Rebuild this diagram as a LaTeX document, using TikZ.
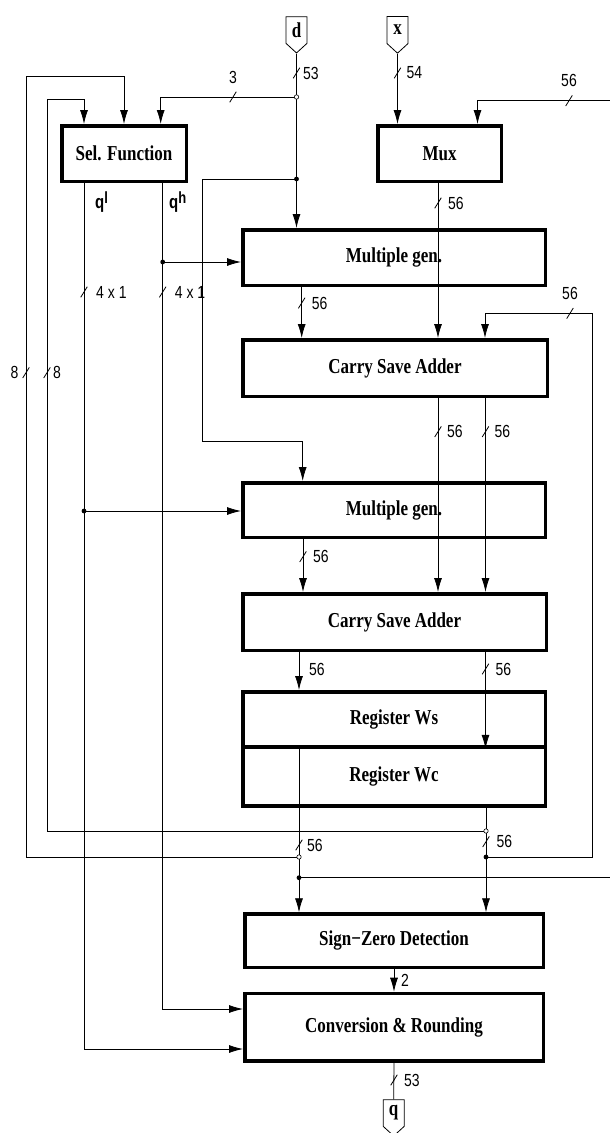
\documentclass[tikz,border=0pt]{standalone}
\usepackage{fontspec}
\setmainfont{Liberation Serif}
\setsansfont{Liberation Sans}
\usetikzlibrary{arrows.meta, shapes.symbols}

% the labels of the figure are set a bit taller than wide
\newcommand{\tall}[1]{\scalebox{1}[1.25]{#1}}

\tikzset{
  blk/.style={draw, line width=3.5pt, minimum width=302.5pt, minimum height=55.5pt,
    inner sep=0pt, font=\fontsize{17}{20}\selectfont\bfseries},
  term/.style={draw, line width=0.8pt, signal, signal to=south, signal pointer angle=95,
    minimum width=21pt, minimum height=31pt, inner sep=0pt,
    font=\fontsize{17}{20}\selectfont\bfseries},
  wire/.style={line width=0.8pt},
  arr/.style={wire, -{Latex[length=14pt,width=8pt]}},
  num/.style={font=\sffamily\fontsize{14}{16}\selectfont, inner sep=1pt},
  qlab/.style={font=\sffamily\bfseries\fontsize{15}{17}\selectfont, inner sep=0pt, anchor=west},
}

\begin{document}
\begin{tikzpicture}[x=1pt, y=-1pt]
  \useasboundingbox (0,0) rectangle (610,1133);
  % Terminals
  \node[term] (din) at (296.5,30) {\tall{d}};
  \node[term] (xin) at (397.5,30) {\tall{x}};
  \node[term] (qout) at (393.7,1113) {\tall{q}};
  % Blocks
  \node[blk, minimum width=124.5pt] (sel) at (124,153.5) {\tall{Sel. Function}};
  \node[blk, minimum width=123.5pt] (mux) at (439.5,153.5) {\tall{Mux}};
  \node[blk] (mg1) at (394,257.5) {\tall{Multiple gen.}};
  \node[blk, minimum width=304.5pt, minimum height=56.5pt] (csa1) at (395,368) {\tall{Carry Save Adder}};
  \node[blk, minimum height=54.5pt] (mg2) at (394,510) {\tall{Multiple gen.}};
  \node[blk, minimum width=303.5pt, minimum height=56.5pt] (csa2) at (394.5,622) {\tall{Carry Save Adder}};
  \node[blk, minimum height=55.25pt] (ws) at (394,719.4) {\tall{Register Ws}};
  \node[blk, minimum height=59.25pt] (wc) at (394,776.6) {\tall{Register Wc}};
  \node[blk, minimum width=298.5pt, minimum height=53.5pt] (szd) at (394,940.8) {\tall{Sign−Zero Detection}};
  \node[blk, minimum width=298.5pt, minimum height=67.5pt] (conv) at (394,1027.2) {\tall{Conversion \& Rounding}};
  % Quotient digit labels
  \node[qlab] (ql) at (95,202) {\tall{q\raisebox{3.5pt}{\fontsize{13}{14}\selectfont l}}};
  \node[qlab] (qh) at (169,202) {\tall{q\raisebox{3.5pt}{\fontsize{13}{14}\selectfont h}}};

  % Junction points
  \coordinate (dsp) at (296.5,97);
  \coordinate (ddot) at (296.5,179);
  \coordinate (qhdot) at (162.7,262);
  \coordinate (qldot) at (84,511);
  \coordinate (wco) at (486,831);
  \coordinate (wso) at (299,857);
  \coordinate (wcd) at (486,857);
  \coordinate (szdot) at (299,877.7);
  \coordinate (xext) at (610,100.7);
  \coordinate (wext) at (610,877.7);

  % Divisor and operand inputs
  \draw[arr] (din.south) -- (din.south |- mg1.north);
  \draw[arr] (dsp) -| ([xshift=36.7pt]sel.north);
  \draw[arr] (ddot) -- (202,179) -- (202,441) -| ([xshift=-91.3pt]mg2.north);
  \draw[arr] (xin.south) -- (xin.south |- mux.north);
  \draw[arr] (xext) -| ([xshift=38pt]mux.north);
  \draw[arr] ([xshift=-1.5pt]mux.south) -- ([xshift=43pt]csa1.north);
  % Quotient digits
  \draw[arr] ([xshift=-40pt]sel.south) |- ([yshift=-21.8pt]conv.west);
  \draw[arr] ([xshift=38.7pt]sel.south) |- ([yshift=18.2pt]conv.west);
  \draw[arr] (qhdot) -- (qhdot -| mg1.west);
  \draw[arr] (qldot) -- (qldot -| mg2.west);
  % Recurrence
  \draw[arr] ([xshift=-92.3pt]mg1.south) -- ([xshift=-93.3pt]csa1.north);
  \draw[arr] (wcd) -- (592.7,857) -- (592.7,313.3) -| ([xshift=90pt]csa1.north);
  \draw[arr] ([xshift=43pt]csa1.south) -- ([xshift=43.5pt]csa2.north);
  \draw[arr] ([xshift=90.5pt]csa1.south) -- ([xshift=91pt]csa2.north);
  \draw[arr] ([xshift=-91pt]mg2.south) -- ([xshift=-91.5pt]csa2.north);
  \draw[arr] ([xshift=-95.5pt]csa2.south) -- ([xshift=-95pt]ws.north);
  \draw[arr] ([xshift=91pt]csa2.south) -- ([xshift=91.5pt]ws.south);
  \draw[arr] ([xshift=-95pt]ws.south) -- ([xshift=-95pt]szd.north);
  \draw[arr] ([xshift=92pt]wc.south) -- ([xshift=92pt]szd.north);
  \draw[wire] (szdot) -- (wext);
  % Feedback to the selection function
  \draw[arr] (wso) -- (26,857) -- (26,76) -| (sel.north);
  \draw[arr] (wco) -- (47,831) -- (47,99.3) -| ([xshift=-40pt]sel.north);
  % Result
  \draw[arr] (szd.south) -- (szd.south |- conv.north);
  \draw[wire] (conv.south) -- (qout.north);

  % Dots and taps
  \foreach \p in {ddot, qhdot, qldot, wcd, szdot}
    \fill (\p) circle (2.4pt);
  \foreach \p in {dsp, wco, wso}
    \filldraw[fill=white, line width=0.6pt] (\p) circle (2.2pt);

  % Bus widths on vertical lines
  \foreach \n/\x/\y/\d/\t in {w53a/296.5/73/5.5/53, w54/397.5/73/8/54, wmux/438/203/9/56,
      wmg1/301.7/303/9/56, wcs1/438/431.7/8/56, wcs2/485.5/431.7/8/56,
      wmg2/303/556.7/9/56, wcs3/485.5/669/9/56, wso2/299/845/7/56,
      wco2/486/841.7/9.5/56, w53b/394/1080/9/53, wql/84/292/11/4 x 1,
      wqh/162.7/292/11/4 x 1, w8b/47/372.7/5/8}{
    \draw[wire] (\x-3.3,\y+5.3) -- (\x+3.3,\y-5.3);
    \node[num, anchor=west] (\n) at (\x+\d,\y) {\tall{\t}};
  }
  % Bus widths on horizontal lines
  \foreach \n/\x/\y/\t in {w3/233/97/3, wxm/569/100.7/56, wfb/570/313.3/56}{
    \draw[wire] (\x-3.3,\y+5.3) -- (\x+3.3,\y-5.3);
    \node[num] (\n) at (\x,\y-20) {\tall{\t}};
  }
  \draw[wire] (22.7,378) -- (29.3,367.4);
  \node[num, anchor=east] (w8a) at (19.5,372.7) {\tall{8}};
  \node[num, anchor=west] (wcs4) at (308,669) {\tall{56}};
  \node[num, anchor=west] (w2) at (400,980) {\tall{2}};
\end{tikzpicture}
\end{document}
